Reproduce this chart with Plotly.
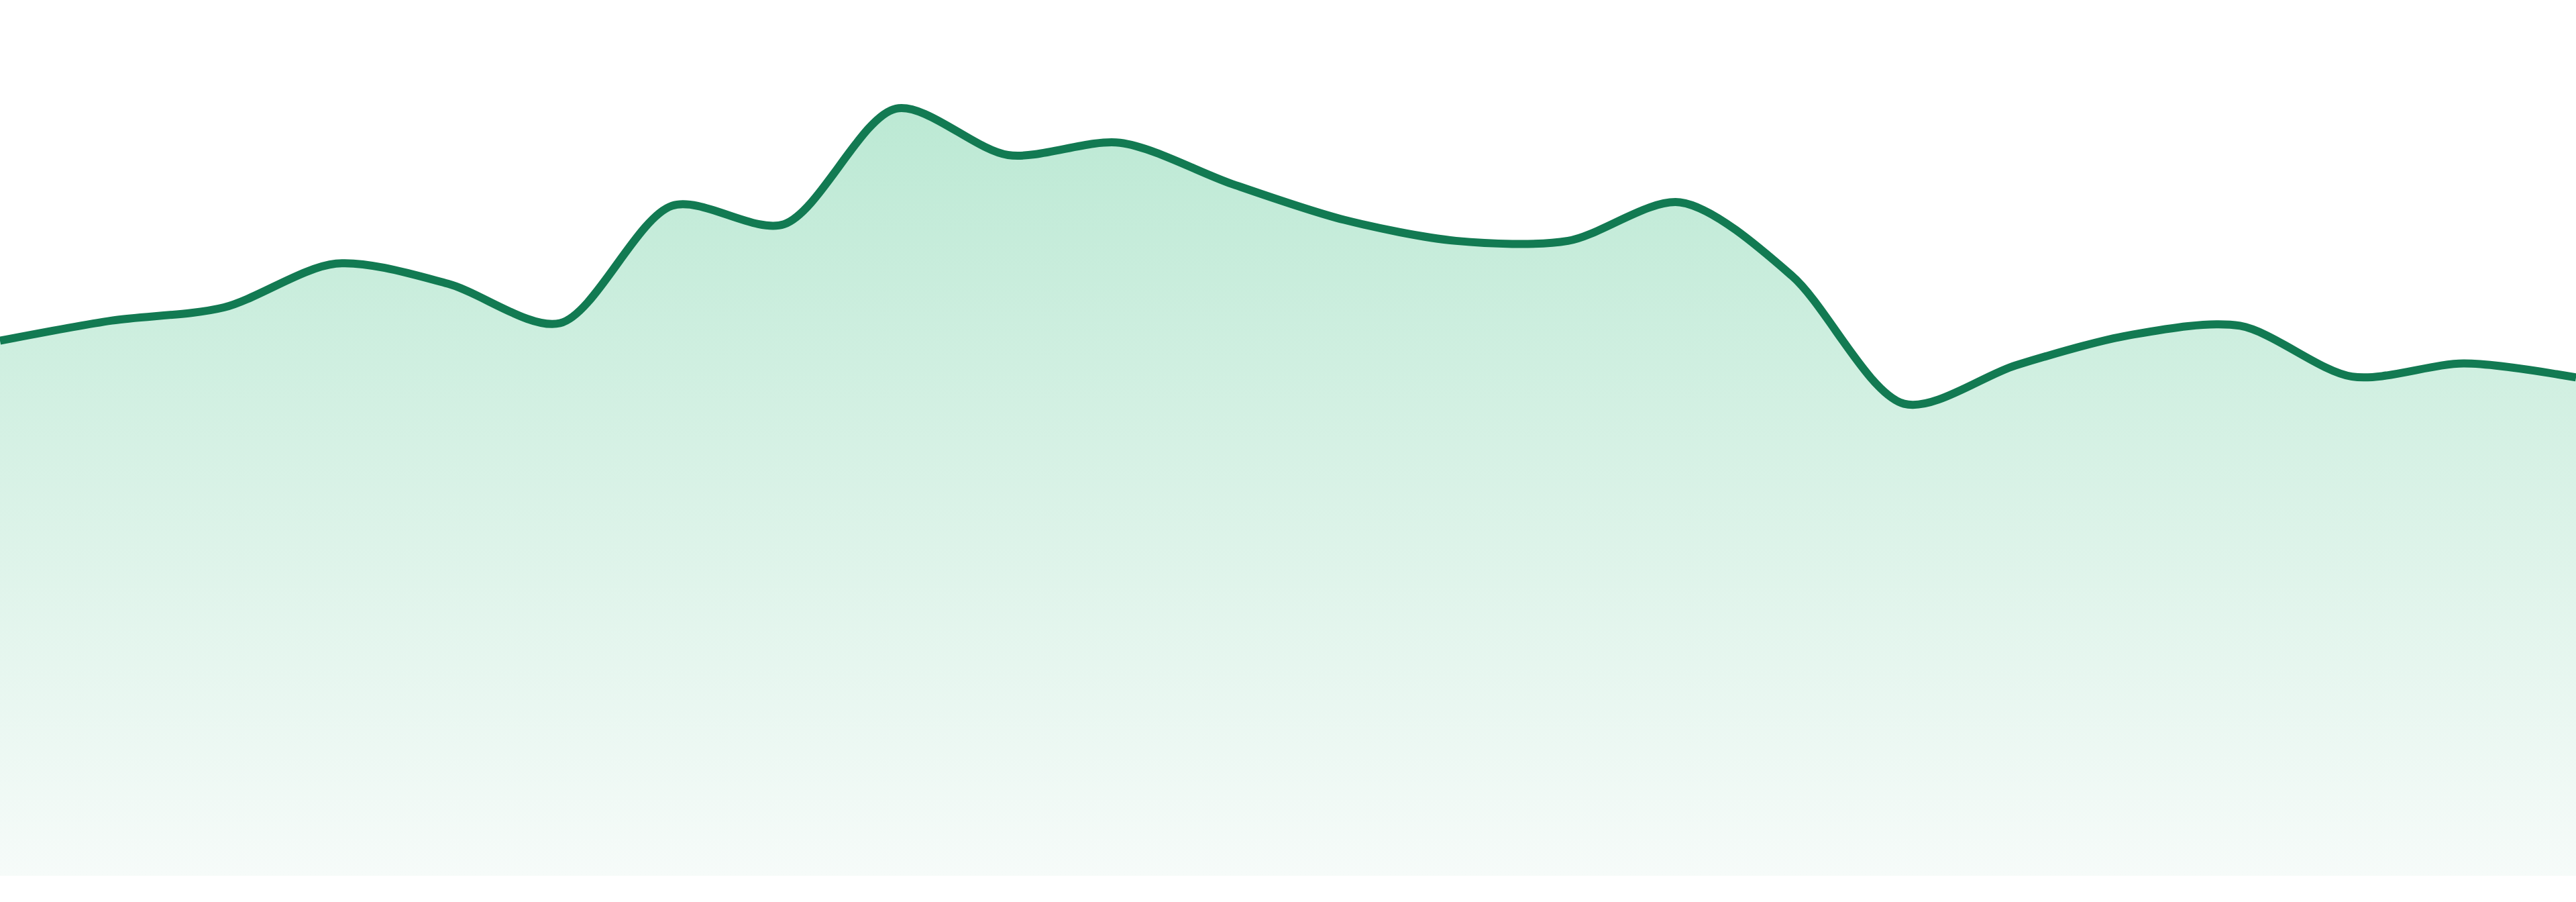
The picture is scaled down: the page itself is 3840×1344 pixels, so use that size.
import plotly.graph_objects as go

# one reading per step, left to right
steps = list(range(24))
values = [61.1, 63.4, 64.9, 69.9, 67.6, 63.1, 76.5, 74.4, 87.6, 82.3, 83.7, 79.0,
          74.9, 72.5, 72.5, 76.9, 68.5, 53.9, 58.3, 61.7, 62.8, 57.0, 58.5, 56.9]

line_color = "#127a52"

fig = go.Figure()
fig.add_trace(go.Scatter(
    x=steps, y=values,
    mode="lines",
    line=dict(color=line_color, width=12, shape="spline", smoothing=0.85),
    fill="tozeroy",
    fillgradient=dict(
        type="vertical",
        start=0, stop=max(values),
        colorscale=[[0, "#f6fbf9"], [1, "#bce9d4"]],
    ),
    hoverinfo="skip",
    showlegend=False,
))

fig.update_layout(
    width=3840, height=1344,
    margin=dict(l=0, r=0, t=0, b=39),
    paper_bgcolor="white",
    plot_bgcolor="white",
    xaxis=dict(range=[0, 23], visible=False, fixedrange=True),
    yaxis=dict(range=[0, 100], visible=False, fixedrange=True),
)

# drop the default page margin so the figure sits flush with the window
fig.write_html("out.html", config={"displayModeBar": False},
               post_script="document.body.style.margin='0';")
